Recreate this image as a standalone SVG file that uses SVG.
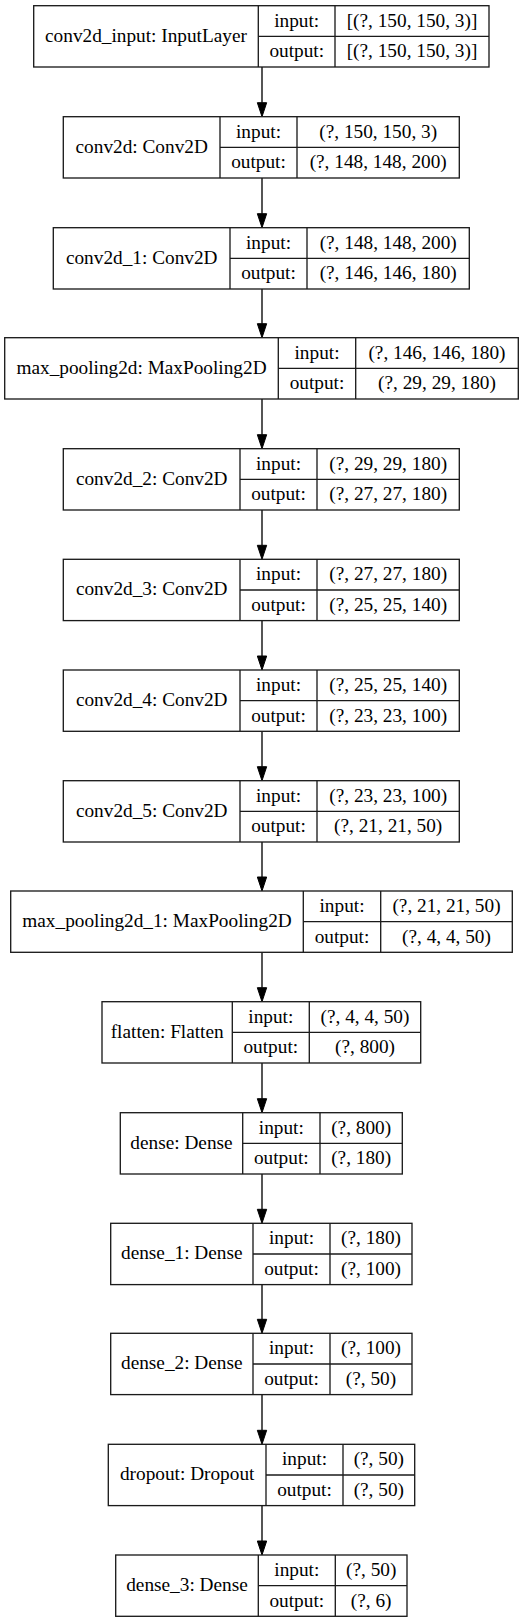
<svg xmlns="http://www.w3.org/2000/svg" width="525" height="1623" viewBox="0 0 525 1623">
<style>
.box{fill:none;stroke:#1a1a1a;stroke-width:1.33}
.ln{stroke:#1a1a1a;stroke-width:1.33}
text{font-family:"Liberation Serif","Times New Roman",serif;font-size:19.3px;fill:#000;text-anchor:middle}
.edge{stroke:#000;stroke-width:1.33;fill:none;marker-end:url(#ah)}
</style>
<defs>
<marker id="ah" markerUnits="userSpaceOnUse" markerWidth="15" markerHeight="11" refX="0" refY="5" orient="auto" overflow="visible">
<path d="M0,0.33 L14,5 L0,9.67 Z" fill="#000" stroke="#000" stroke-width="1"/>
</marker>
</defs>
<rect width="525" height="1623" fill="#fff"/>
<g id="connectors">
<line class="edge" x1="262" y1="67" x2="262" y2="102.7"/>
<line class="edge" x1="262" y1="178" x2="262" y2="213.7"/>
<line class="edge" x1="262" y1="289" x2="262" y2="323.7"/>
<line class="edge" x1="262" y1="399" x2="262" y2="434.7"/>
<line class="edge" x1="262" y1="510" x2="262" y2="545.3"/>
<line class="edge" x1="262" y1="620.6" x2="262" y2="656"/>
<line class="edge" x1="262" y1="731.3" x2="262" y2="766.7"/>
<line class="edge" x1="262" y1="842" x2="262" y2="877"/>
<line class="edge" x1="262" y1="952.3" x2="262" y2="987.7"/>
<line class="edge" x1="262" y1="1063" x2="262" y2="1098.7"/>
<line class="edge" x1="262" y1="1174" x2="262" y2="1209.3"/>
<line class="edge" x1="262" y1="1284.6" x2="262" y2="1319.3"/>
<line class="edge" x1="262" y1="1394.6" x2="262" y2="1430.3"/>
<line class="edge" x1="262" y1="1505.6" x2="262" y2="1541"/>
</g>
<g id="conv2d_input">
<rect class="box" x="33.7" y="5.7" width="455.3" height="61.3"/>
<line class="ln" x1="258.3" y1="5.7" x2="258.3" y2="67"/>
<line class="ln" x1="335" y1="5.7" x2="335" y2="67"/>
<line class="ln" x1="258.3" y1="36.4" x2="489" y2="36.4"/>
<text x="146" y="41.8">conv2d_input: InputLayer</text>
<text x="296.7" y="26.5">input:</text>
<text x="412" y="26.5">[(?, 150, 150, 3)]</text>
<text x="296.7" y="57.2">output:</text>
<text x="412" y="57.2">[(?, 150, 150, 3)]</text>
</g>
<g id="conv2d">
<rect class="box" x="63.3" y="116.7" width="396" height="61.3"/>
<line class="ln" x1="220" y1="116.7" x2="220" y2="178"/>
<line class="ln" x1="297" y1="116.7" x2="297" y2="178"/>
<line class="ln" x1="220" y1="147.4" x2="459.3" y2="147.4"/>
<text x="141.7" y="152.8">conv2d: Conv2D</text>
<text x="258.5" y="137.5">input:</text>
<text x="378.2" y="137.5">(?, 150, 150, 3)</text>
<text x="258.5" y="168.2">output:</text>
<text x="378.2" y="168.2">(?, 148, 148, 200)</text>
</g>
<g id="conv2d_1">
<rect class="box" x="53.3" y="227.7" width="416" height="61.3"/>
<line class="ln" x1="230" y1="227.7" x2="230" y2="289"/>
<line class="ln" x1="307" y1="227.7" x2="307" y2="289"/>
<line class="ln" x1="230" y1="258.4" x2="469.3" y2="258.4"/>
<text x="141.7" y="263.8">conv2d_1: Conv2D</text>
<text x="268.5" y="248.5">input:</text>
<text x="388.2" y="248.5">(?, 148, 148, 200)</text>
<text x="268.5" y="279.2">output:</text>
<text x="388.2" y="279.2">(?, 146, 146, 180)</text>
</g>
<g id="max_pooling2d">
<rect class="box" x="4.7" y="337.7" width="513.6" height="61.3"/>
<line class="ln" x1="278.3" y1="337.7" x2="278.3" y2="399"/>
<line class="ln" x1="355.7" y1="337.7" x2="355.7" y2="399"/>
<line class="ln" x1="278.3" y1="368.4" x2="518.3" y2="368.4"/>
<text x="141.5" y="373.8">max_pooling2d: MaxPooling2D</text>
<text x="317" y="358.5">input:</text>
<text x="437" y="358.5">(?, 146, 146, 180)</text>
<text x="317" y="389.2">output:</text>
<text x="437" y="389.2">(?, 29, 29, 180)</text>
</g>
<g id="conv2d_2">
<rect class="box" x="63.3" y="448.7" width="396" height="61.3"/>
<line class="ln" x1="240" y1="448.7" x2="240" y2="510"/>
<line class="ln" x1="317" y1="448.7" x2="317" y2="510"/>
<line class="ln" x1="240" y1="479.4" x2="459.3" y2="479.4"/>
<text x="151.7" y="484.8">conv2d_2: Conv2D</text>
<text x="278.5" y="469.5">input:</text>
<text x="388.2" y="469.5">(?, 29, 29, 180)</text>
<text x="278.5" y="500.2">output:</text>
<text x="388.2" y="500.2">(?, 27, 27, 180)</text>
</g>
<g id="conv2d_3">
<rect class="box" x="63.3" y="559.3" width="396" height="61.3"/>
<line class="ln" x1="240" y1="559.3" x2="240" y2="620.6"/>
<line class="ln" x1="317" y1="559.3" x2="317" y2="620.6"/>
<line class="ln" x1="240" y1="590" x2="459.3" y2="590"/>
<text x="151.7" y="595.4">conv2d_3: Conv2D</text>
<text x="278.5" y="580.1">input:</text>
<text x="388.2" y="580.1">(?, 27, 27, 180)</text>
<text x="278.5" y="610.8">output:</text>
<text x="388.2" y="610.8">(?, 25, 25, 140)</text>
</g>
<g id="conv2d_4">
<rect class="box" x="63.3" y="670" width="396" height="61.3"/>
<line class="ln" x1="240" y1="670" x2="240" y2="731.3"/>
<line class="ln" x1="317" y1="670" x2="317" y2="731.3"/>
<line class="ln" x1="240" y1="700.7" x2="459.3" y2="700.7"/>
<text x="151.7" y="706.1">conv2d_4: Conv2D</text>
<text x="278.5" y="690.8">input:</text>
<text x="388.2" y="690.8">(?, 25, 25, 140)</text>
<text x="278.5" y="721.5">output:</text>
<text x="388.2" y="721.5">(?, 23, 23, 100)</text>
</g>
<g id="conv2d_5">
<rect class="box" x="63.3" y="780.7" width="396" height="61.3"/>
<line class="ln" x1="240" y1="780.7" x2="240" y2="842"/>
<line class="ln" x1="317" y1="780.7" x2="317" y2="842"/>
<line class="ln" x1="240" y1="811.4" x2="459.3" y2="811.4"/>
<text x="151.7" y="816.8">conv2d_5: Conv2D</text>
<text x="278.5" y="801.5">input:</text>
<text x="388.2" y="801.5">(?, 23, 23, 100)</text>
<text x="278.5" y="832.2">output:</text>
<text x="388.2" y="832.2">(?, 21, 21, 50)</text>
</g>
<g id="max_pooling2d_1">
<rect class="box" x="10.7" y="891" width="501.6" height="61.3"/>
<line class="ln" x1="303.3" y1="891" x2="303.3" y2="952.3"/>
<line class="ln" x1="380.7" y1="891" x2="380.7" y2="952.3"/>
<line class="ln" x1="303.3" y1="921.7" x2="512.3" y2="921.7"/>
<text x="157" y="927.1">max_pooling2d_1: MaxPooling2D</text>
<text x="342" y="911.8">input:</text>
<text x="446.5" y="911.8">(?, 21, 21, 50)</text>
<text x="342" y="942.5">output:</text>
<text x="446.5" y="942.5">(?, 4, 4, 50)</text>
</g>
<g id="flatten">
<rect class="box" x="102" y="1001.7" width="318.7" height="61.3"/>
<line class="ln" x1="232.3" y1="1001.7" x2="232.3" y2="1063"/>
<line class="ln" x1="309.3" y1="1001.7" x2="309.3" y2="1063"/>
<line class="ln" x1="232.3" y1="1032.4" x2="420.7" y2="1032.4"/>
<text x="167.2" y="1037.8">flatten: Flatten</text>
<text x="270.8" y="1022.5">input:</text>
<text x="365" y="1022.5">(?, 4, 4, 50)</text>
<text x="270.8" y="1053.2">output:</text>
<text x="365" y="1053.2">(?, 800)</text>
</g>
<g id="dense">
<rect class="box" x="120.3" y="1112.7" width="282" height="61.3"/>
<line class="ln" x1="242.7" y1="1112.7" x2="242.7" y2="1174"/>
<line class="ln" x1="320" y1="1112.7" x2="320" y2="1174"/>
<line class="ln" x1="242.7" y1="1143.4" x2="402.3" y2="1143.4"/>
<text x="181.5" y="1148.8">dense: Dense</text>
<text x="281.3" y="1133.5">input:</text>
<text x="361.2" y="1133.5">(?, 800)</text>
<text x="281.3" y="1164.2">output:</text>
<text x="361.2" y="1164.2">(?, 180)</text>
</g>
<g id="dense_1">
<rect class="box" x="110.7" y="1223.3" width="301.3" height="61.3"/>
<line class="ln" x1="253" y1="1223.3" x2="253" y2="1284.6"/>
<line class="ln" x1="330" y1="1223.3" x2="330" y2="1284.6"/>
<line class="ln" x1="253" y1="1254" x2="412" y2="1254"/>
<text x="181.8" y="1259.4">dense_1: Dense</text>
<text x="291.5" y="1244.1">input:</text>
<text x="371" y="1244.1">(?, 180)</text>
<text x="291.5" y="1274.8">output:</text>
<text x="371" y="1274.8">(?, 100)</text>
</g>
<g id="dense_2">
<rect class="box" x="110.7" y="1333.3" width="301.3" height="61.3"/>
<line class="ln" x1="253" y1="1333.3" x2="253" y2="1394.6"/>
<line class="ln" x1="330" y1="1333.3" x2="330" y2="1394.6"/>
<line class="ln" x1="253" y1="1364" x2="412" y2="1364"/>
<text x="181.8" y="1369.4">dense_2: Dense</text>
<text x="291.5" y="1354.1">input:</text>
<text x="371" y="1354.1">(?, 100)</text>
<text x="291.5" y="1384.8">output:</text>
<text x="371" y="1384.8">(?, 50)</text>
</g>
<g id="dropout">
<rect class="box" x="108.3" y="1444.3" width="306.4" height="61.3"/>
<line class="ln" x1="266" y1="1444.3" x2="266" y2="1505.6"/>
<line class="ln" x1="343" y1="1444.3" x2="343" y2="1505.6"/>
<line class="ln" x1="266" y1="1475" x2="414.7" y2="1475"/>
<text x="187.2" y="1480.4">dropout: Dropout</text>
<text x="304.5" y="1465.1">input:</text>
<text x="378.8" y="1465.1">(?, 50)</text>
<text x="304.5" y="1495.8">output:</text>
<text x="378.8" y="1495.8">(?, 50)</text>
</g>
<g id="dense_3">
<rect class="box" x="115.7" y="1555" width="291.3" height="61.3"/>
<line class="ln" x1="258.3" y1="1555" x2="258.3" y2="1616.3"/>
<line class="ln" x1="335.3" y1="1555" x2="335.3" y2="1616.3"/>
<line class="ln" x1="258.3" y1="1585.7" x2="407" y2="1585.7"/>
<text x="187" y="1591.1">dense_3: Dense</text>
<text x="296.8" y="1575.8">input:</text>
<text x="371.2" y="1575.8">(?, 50)</text>
<text x="296.8" y="1606.5">output:</text>
<text x="371.2" y="1606.5">(?, 6)</text>
</g>
</svg>
